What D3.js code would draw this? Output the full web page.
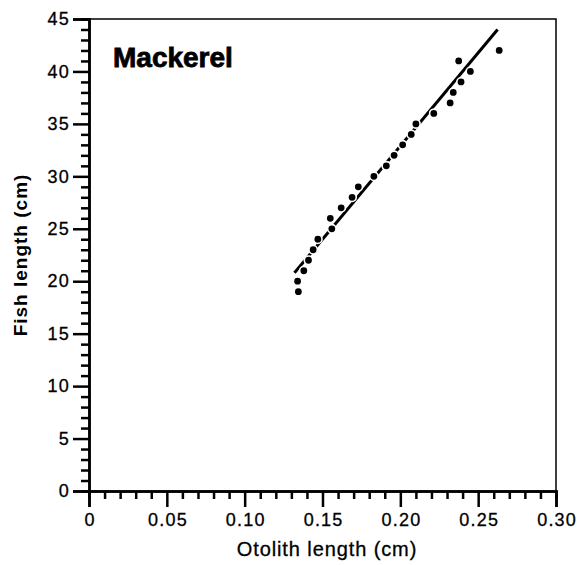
<!DOCTYPE html>
<html>
<head>
<meta charset="utf-8">
<script src="https://cdn.jsdelivr.net/npm/d3@7"></script>
<style>
  html, body { margin: 0; padding: 0; background: #fff; }
  svg { display: block; }
  text { font-family: "Liberation Sans", Arial, Helvetica, sans-serif; fill: #000; }
</style>
</head>
<body>
<svg id="chart" width="580" height="565"></svg>
<script>
// ---- data ----
const title = "Mackerel";
const xLabel = "Otolith length (cm)";
const yLabel = "Fish length (cm)";
const otolith = [0.134, 0.1345, 0.138, 0.141, 0.144, 0.147, 0.155, 0.156, 0.162, 0.169, 0.173,
                 0.183, 0.191, 0.196, 0.2015, 0.207, 0.210, 0.2215, 0.232, 0.234, 0.2375, 0.239, 0.245, 0.2635];
const fish    = [20, 19, 21, 22, 23, 24, 26, 25, 27, 28, 29,
                 30, 31, 32, 33, 34, 35, 36, 37, 38, 41, 39, 40, 42];
const fitX = [0.132, 0.2625];
const fitY = [20.8, 44.0];
const xTicks = [0, 0.05, 0.10, 0.15, 0.20, 0.25, 0.30];
const xTickLabels = ["0", "0.05", "0.10", "0.15", "0.20", "0.25", "0.30"];
const yTicks = [0, 5, 10, 15, 20, 25, 30, 35, 40, 45];

// ---- layout ----
const svg = d3.select("#chart");
const mLeft = 89, mRight = 556, mTop = 19, mBottom = 491;
const x = d3.scaleLinear().domain([0, 0.30]).range([mLeft, mRight]);
const y = d3.scaleLinear().domain([0, 45]).range([mBottom, mTop]);

// frame (top and right)
svg.append("path")
  .attr("d", `M${mLeft},${mTop}H${mRight}V${mBottom}`)
  .attr("fill", "none").attr("stroke", "#000").attr("stroke-width", 1.5);

// minor ticks
const xMinor = d3.range(0, 31).map(i => i / 100).filter(v => !xTicks.some(t => Math.abs(t - v) < 1e-9));
const yMinor = d3.range(0, 46).filter(v => v % 5 !== 0);

const gx = svg.append("g").attr("transform", `translate(0,${mBottom})`);
gx.call(d3.axisBottom(x).tickValues(xMinor).tickSize(8).tickFormat(""));
gx.selectAll(".tick line").attr("stroke-width", 2.5);
const gxM = svg.append("g").attr("transform", `translate(0,${mBottom})`);
gxM.call(d3.axisBottom(x).tickValues(xTicks).tickSize(16).tickPadding(6)
  .tickFormat((d, i) => xTickLabels[i]));
gxM.selectAll(".tick line").attr("stroke-width", 2.5);
gxM.selectAll(".tick text").attr("font-size", 18).style("letter-spacing", "1.2px")
  .attr("stroke", "#000").attr("stroke-width", 0.3)
  .attr("font-family", "'Liberation Sans', Arial, sans-serif").attr("dx", "0.6px");

const gy = svg.append("g").attr("transform", `translate(${mLeft},0)`);
gy.call(d3.axisLeft(y).tickValues(yMinor).tickSize(8).tickFormat(""));
gy.selectAll(".tick line").attr("stroke-width", 2.5);
const gyM = svg.append("g").attr("transform", `translate(${mLeft},0)`);
gyM.call(d3.axisLeft(y).tickValues(yTicks).tickSize(16).tickPadding(3));
gyM.selectAll(".tick line").attr("stroke-width", 2.5);
gyM.selectAll(".tick text").attr("font-size", 18).style("letter-spacing", "1.2px")
  .attr("stroke", "#000").attr("stroke-width", 0.3)
  .attr("font-family", "'Liberation Sans', Arial, sans-serif");

[gx, gxM, gy, gyM].forEach(g => g.select(".domain").attr("stroke-width", 2.5));

// fitted line
const line = d3.line().x((d, i) => x(fitX[i])).y((d, i) => y(fitY[i]));
svg.append("path").datum(fitX).attr("d", line)
  .attr("fill", "none").attr("stroke", "#000").attr("stroke-width", 3);

// points
svg.append("g").selectAll("circle").data(otolith).join("circle")
  .attr("cx", d => x(d)).attr("cy", (d, i) => y(fish[i]))
  .attr("r", 4.2).attr("fill", "#000").attr("stroke", "#fff").attr("stroke-width", 1.6);

// title
svg.append("text").attr("x", 113).attr("y", 67)
  .attr("font-size", 28).attr("font-weight", "bold")
  .attr("stroke", "#000").attr("stroke-width", 0.8)
  .text(title);

// axis labels
svg.append("text").attr("x", 327).attr("y", 556).attr("text-anchor", "middle")
  .attr("font-size", 20).style("letter-spacing", "0.9px")
  .attr("stroke", "#000").attr("stroke-width", 0.3).text(xLabel);
svg.append("text").attr("transform", "translate(27,255) rotate(-90)").attr("text-anchor", "middle")
  .attr("font-size", 19).attr("font-weight", "bold").style("letter-spacing", "1px").text(yLabel);
</script>
</body>
</html>
